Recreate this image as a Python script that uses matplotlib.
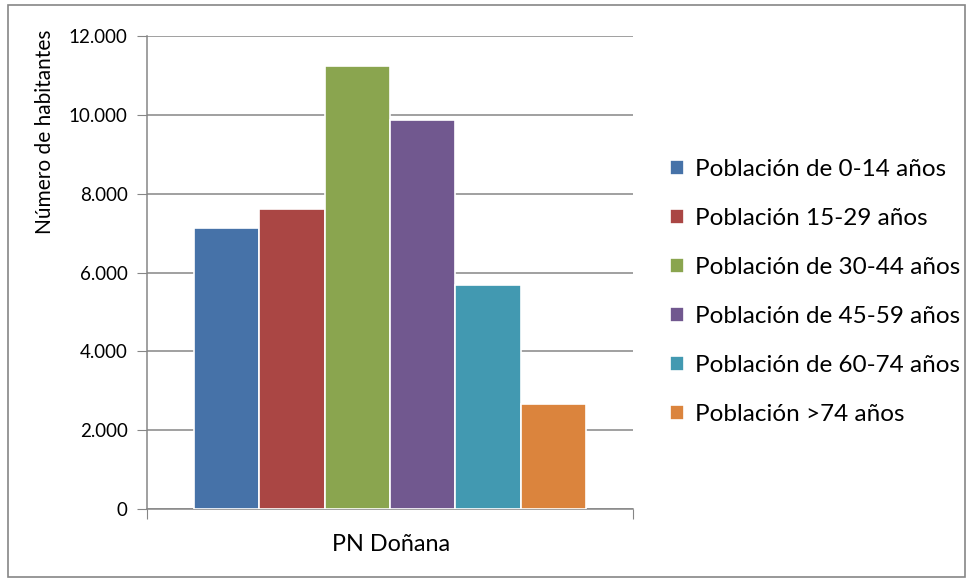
import numpy as np
import matplotlib.pyplot as plt
from matplotlib.patches import Rectangle

plt.rcParams['font.family'] = ['Lato', 'DejaVu Sans']

# Data
category = 'PN Doñana'
groups = ['Población de 0-14 años', 'Población 15-29 años', 'Población de 30-44 años',
          'Población de 45-59 años', 'Población de 60-74 años', 'Población >74 años']
values = [7130, 7610, 11240, 9870, 5680, 2660]
colors = ['#4672a8', '#aa4644', '#8aa54f', '#71588f', '#4299b1', '#db843d']
yticks = [0, 2000, 4000, 6000, 8000, 10000, 12000]
ytick_labels = ['0', '2.000', '4.000', '6.000', '8.000', '10.000', '12.000']

fig = plt.figure(figsize=(9.72, 5.81), dpi=100)
ax = fig.add_axes([0.1512, 0.1239, 0.5, 0.8141])

n = len(values)
w = 0.1346
x = (np.arange(n) - (n - 1) / 2) * w
for xi, v, c, g in zip(x, values, colors, groups):
    ax.bar(xi, v, width=w, color=c, edgecolor='white', linewidth=1.2, label=g, zorder=3)

ax.set_xlim(-0.5, 0.5)
ax.set_ylim(0, 12000)
ax.set_yticks(yticks)
ax.set_yticklabels(ytick_labels, fontsize=13.5)
ax.set_xticks([-0.5, 0.5])
ax.set_xticklabels(['', ''])
ax.tick_params(axis='y', length=7, color='#868686', pad=7)
ax.tick_params(axis='x', length=7, color='#868686')
ax.grid(axis='y', color='#868686', linewidth=1.1, zorder=0)
for s in ['top', 'right']:
    ax.spines[s].set_visible(False)
for s in ['left', 'bottom']:
    ax.spines[s].set_color('#868686')
    ax.spines[s].set_linewidth(1.1)

ax.set_ylabel('Número de habitantes', fontsize=15)
ax.yaxis.set_label_coords(-0.19, 0.797)
fig.text(0.4027, 0.063, category, fontsize=16.8, ha='center', va='center')

leg = fig.legend(loc='center left', bbox_to_anchor=(0.667, 0.497), frameon=False,
                 fontsize=17.5, handlelength=0.55, handleheight=0.55, handletextpad=0.45,
                 labelspacing=1.15)

fig.add_artist(Rectangle((0.008, 0.007), 0.985, 0.9845, transform=fig.transFigure,
                         fill=False, edgecolor='#868686', linewidth=1.2))

fig.savefig('out.png', dpi=100)
